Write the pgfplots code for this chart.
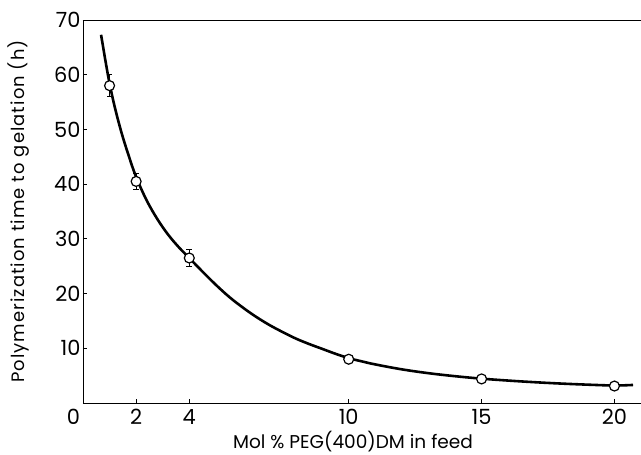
\documentclass[border=0pt]{standalone}
\usepackage{fontspec}
\setmainfont{Poppins}
\usepackage{pgfplots}
\pgfplotsset{compat=1.18}
\begin{document}
\begin{tikzpicture}
\begin{axis}[
  scale only axis,
  width=558bp, height=383bp,
  xmin=0, xmax=21, ymin=0, ymax=70,
  axis x line=box, axis y line=left,
  x axis line style={-, line width=0.9pt},
  y axis line style={-, line width=0.9pt},
  xtick pos=bottom, ytick pos=left,
  tick align=inside,
  major tick length=4bp,
  tick style={black, line width=0.8pt},
  xtick={0,2,4,10,15,20},
  xticklabels={\makebox[0pt][r]{0\hspace{3bp}},2,4,10,15,20},
  ytick={10,20,30,40,50,60,70},
  /pgf/number format/assume math mode=true,
  tick label style={font=\fontsize{21}{24}\selectfont},
  xticklabel style={yshift=-3bp},
  yticklabel style={xshift=1bp},
  xlabel={Mol \% PEG(400)DM in feed},
  ylabel={Polymerization time to gelation (h)},
  xlabel style={font=\fontsize{18.6}{21}\selectfont, yshift=1bp, xshift=-9bp},
  ylabel style={font=\fontsize{18}{21}\selectfont\addfontfeature{LetterSpace=6}, yshift=18bp},
  clip=false,
]
\addplot[black, line width=2.6pt, smooth, tension=0.6] coordinates {
(0.68,67.3)(0.85,62.4)(1.0,58.4)(1.2,54.0)(1.45,49.4)(1.7,45.5)(2.0,41.3)(2.4,37.0)(2.8,33.6)(3.2,30.8)(3.6,28.5)(4.0,26.5)(4.5,24.0)(5,21.6)(5.5,19.4)(6,17.5)(6.5,15.8)(7,14.3)(7.5,13.0)(8,11.8)(8.5,10.8)(9,9.9)(9.5,9.0)(10,8.2)(10.5,7.6)(11,7.05)(12,6.15)(13,5.45)(14,4.9)(15,4.45)(16,4.1)(17,3.8)(18,3.55)(19,3.35)(20,3.2)(20.7,3.3)
};
\addplot[only marks, mark=*, mark size=5pt, mark options={fill=white, draw=black, line width=1.2pt},
  error bars/.cd, y dir=both, y explicit,
  error bar style={line width=1pt, black},
  error mark options={rotate=90, mark size=2.8pt, line width=1pt, black}]
  coordinates {
(1,58) +- (0,2)
(2,40.5) +- (0,1.5)
(4,26.5) +- (0,1.5)
(10,8) +- (0,0)
(15,4.4) +- (0,0)
(20,3.1) +- (0,0)
};
\end{axis}
\pgfresetboundingbox
\path[use as bounding box] ([xshift=-83bp,yshift=-52bp]current axis.south west) rectangle ([yshift=20bp]current axis.north east);
\end{tikzpicture}
\end{document}
